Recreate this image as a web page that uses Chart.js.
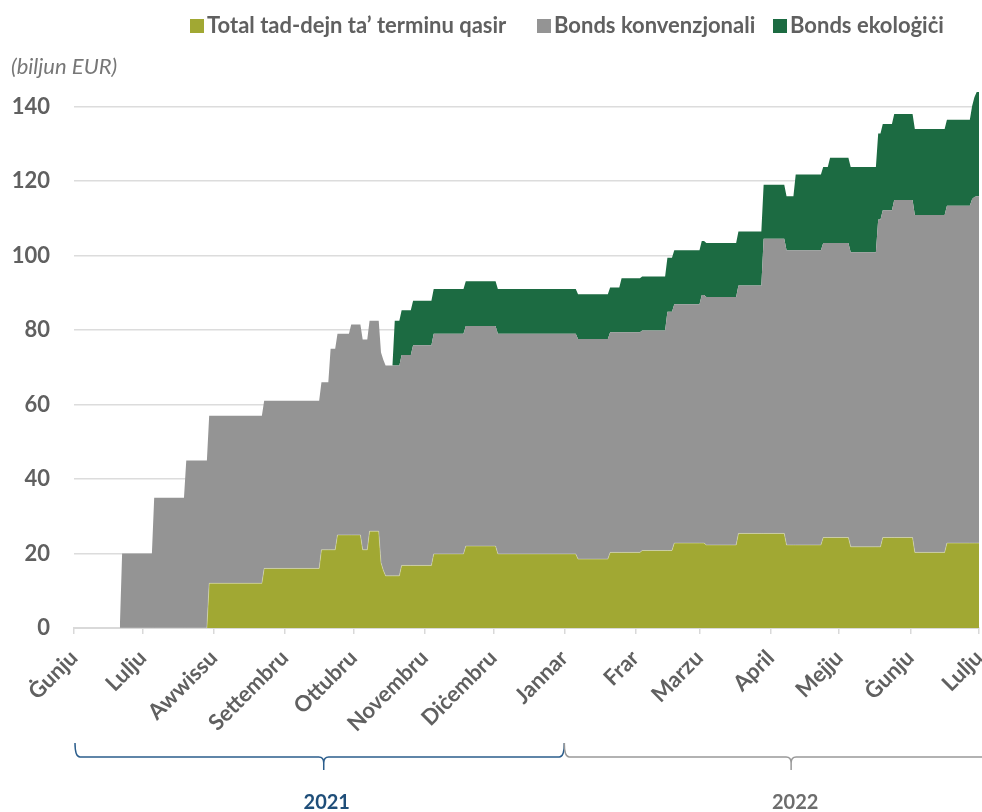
<!DOCTYPE html>
<html><head><meta charset="utf-8">
<script src="https://cdn.jsdelivr.net/npm/chart.js@4.4.1/dist/chart.umd.min.js"></script>
<style>html,body{margin:0;padding:0;background:#fff;overflow:hidden}</style>
</head><body>
<canvas id="c" width="982" height="812"></canvas>
<script>
// Breakpoints: days since 1 June 2021
const days = [20,21,34,35,48,49,58,59,82,83,107,108,111,112,114,115,120,121,125,126,128,129,133,134,135,136,139,140,142,143,147,148,156,157,170,171,184,185,219,220,233,234,238,239,247,248,258,259,261,262,273,274,275,276,289,290,300,301,310,311,314,315,326,327,329,330,338,339,350,351,352,353,357,358,366,367,380,381,391,392,393,394,395];
// Short-term debt (billion EUR)
const shortTerm = [0,0,0,0,0,0,0,12,12,16,16,21,21,21,21,25,25,25,25,21,21,26,26,17.5,15.5,14,14,14,14,16.8,16.8,16.8,16.8,19.9,19.9,22,22,19.9,19.9,18.5,18.5,20.3,20.3,20.3,20.3,20.8,20.8,20.8,20.8,22.8,22.8,22.8,22.8,22.3,22.3,25.4,25.4,25.4,25.4,22.3,22.3,22.3,22.3,24.3,24.3,24.3,24.3,21.8,21.8,21.8,21.8,24.3,24.3,24.3,24.3,20.3,20.3,22.8,22.8,22.8,22.8,22.8,22.8];
// Conventional bonds
const conventional = [0,20,20,35,35,45,45,45,45,45,45,45,45,54,54,54,54,56.5,56.5,56.5,56.5,56.5,56.5,56.5,56.5,56.5,56.5,56.5,56.5,56.5,56.5,59.1,59.1,59.1,59.1,59.1,59.1,59.1,59.1,59.1,59.1,59.1,59.1,59.1,59.1,59.1,59.1,64.1,64.1,64.1,64.1,66.6,66.6,66.6,66.6,66.6,66.6,79.1,79.1,79.1,79.1,79.1,79.1,79.1,79.1,79.1,79.1,79.1,79.1,87.9,87.9,87.9,87.9,90.6,90.6,90.6,90.6,90.6,90.6,92.4,92.9,93.1,93.1];
// Green bonds
const greenBonds = [0,0,0,0,0,0,0,0,0,0,0,0,0,0,0,0,0,0,0,0,0,0,0,0,0,0,0,12,12,12,12,12,12,12,12,12,12,12,12,12,12,12,12,14.5,14.5,14.5,14.5,14.5,14.5,14.5,14.5,14.5,14.5,14.5,14.5,14.5,14.5,14.5,14.5,14.5,14.5,20.4,20.4,20.4,20.4,22.9,22.9,22.9,22.9,23.1,23.1,23.1,23.1,23.1,23.1,23.1,23.1,23.1,23.1,25.0,26.8,28.0,28.0];

const seriesNames = ["Total tad-dejn ta\u2019 terminu qasir", "Bonds konvenzjonali", "Bonds ekolo\u0121i\u010bi"];
const monthTickDays = [0,30,61,92,122,153,183,214,245,273,304,334,365,395];
const monthLabels = ["\u0120unju","Lulju","Awwissu","Settembru","Ottubru","Novembru","Di\u010bembru","Jannar","Frar","Marzu","April","Mejju","\u0120unju","Lulju"];
const yTickValues = [0,20,40,60,80,100,120,140];
const yearLabels = ["2021","2022"];
const yearStartDays = [0,214];
const unitLabel = "(biljun EUR)";

const colors = ["#a1a833","#949494","#1c6b42"];
const FONT = "Lato";
const textGray = "#606060";

const pts = arr => days.map((d,i)=>({x:d,y:arr[i]}));

const decor = {
  id:'decor',
  afterDraw(chart){
    const ctx = chart.ctx, xs = chart.scales.x;
    ctx.save();
    // legend
    const legendX = [190, 537, 773];
    ctx.font = "bold 22px " + FONT;
    ctx.textBaseline = "middle"; ctx.textAlign = "left";
    chart.data.datasets.forEach((ds,i)=>{
      ctx.fillStyle = ds.backgroundColor;
      ctx.fillRect(legendX[i], 19, 14, 14);
      ctx.fillStyle = textGray;
      ctx.fillText(ds.label, legendX[i]+17, 26);
    });
    // unit
    ctx.font = "italic 22px " + FONT;
    ctx.fillStyle = "#777777";
    ctx.fillText(unitLabel, 11, 67);
    // year braces
    const yTop = 743, yLine = 757, yStem = 770;
    const brace = (x0, x1, mid, col) => {
      ctx.strokeStyle = col; ctx.lineWidth = 1.5;
      ctx.beginPath();
      ctx.moveTo(x0, yTop);
      ctx.quadraticCurveTo(x0, yLine, x0+5, yLine);
      ctx.lineTo(mid-5, yLine);
      ctx.quadraticCurveTo(mid, yLine, mid, yLine+6);
      ctx.lineTo(mid, yStem);
      ctx.moveTo(mid, yLine+6);
      ctx.quadraticCurveTo(mid, yLine, mid+5, yLine);
      ctx.lineTo(x1-5, yLine);
      ctx.quadraticCurveTo(x1, yLine, x1, yTop);
      ctx.stroke();
    };
    const a = xs.getPixelForValue(yearStartDays[0]) + 1;
    const b = xs.getPixelForValue(yearStartDays[1]);
    const m1 = xs.getPixelForValue(109);
    const m2 = xs.getPixelForValue(313);
    brace(a, b, m1, "#2b5d8c");
    brace(b, chart.width + 60, m2, "#999999");
    ctx.font = "bold 20px " + FONT;
    ctx.textAlign = "center";
    ctx.fillStyle = "#1f4e79";
    ctx.fillText(yearLabels[0], m1+3, 803);
    ctx.fillStyle = "#6d6d6d";
    ctx.fillText(yearLabels[1], m2+4, 803);
    ctx.restore();
  }
};

new Chart(document.getElementById('c'), {
  type:'line',
  data:{datasets:[
    {label:seriesNames[0], data:pts(shortTerm), backgroundColor:colors[0], borderColor:'rgba(255,255,255,0.3)', borderWidth:1, fill:'origin', pointRadius:0, tension:0},
    {label:seriesNames[1], data:pts(conventional), backgroundColor:colors[1], borderWidth:0, fill:'-1', pointRadius:0, tension:0},
    {label:seriesNames[2], data:pts(greenBonds), backgroundColor:colors[2], borderWidth:0, fill:'-1', pointRadius:0, tension:0}
  ]},
  options:{
    responsive:false, animation:false, devicePixelRatio:1,
    layout:{padding:{top:88,right:3,left:0,bottom:0}},
    plugins:{legend:{display:false}, tooltip:{enabled:false}, title:{display:false}},
    scales:{
      x:{type:'linear', min:0, max:395,
        afterBuildTicks:s=>{s.ticks = monthTickDays.map(v=>({value:v}));},
        afterFit:s=>{s.height = 184; s.paddingLeft = 0; s.paddingRight = 0;},
        ticks:{autoSkip:false, minRotation:45, maxRotation:45, padding:11, color:textGray,
          font:{family:FONT, weight:'bold', size:22}, callback:(v,i)=>monthLabels[i]},
        grid:{drawOnChartArea:false, drawTicks:true, tickLength:6, color:'#d9d9d9', lineWidth:1.5},
        border:{display:true, color:'#d9d9d9', width:2}
      },
      y:{stacked:true, min:0, max:145,
        afterBuildTicks:s=>{s.ticks = yTickValues.map(v=>({value:v}));},
        afterFit:s=>{s.width = 74;},
        ticks:{padding:24, color:textGray, font:{family:FONT, weight:'bold', size:22}},
        grid:{color:'#dcdcdc', lineWidth:1.5, drawTicks:false},
        border:{display:false}
      }
    }
  },
  plugins:[decor]
});
</script>
</body></html>
